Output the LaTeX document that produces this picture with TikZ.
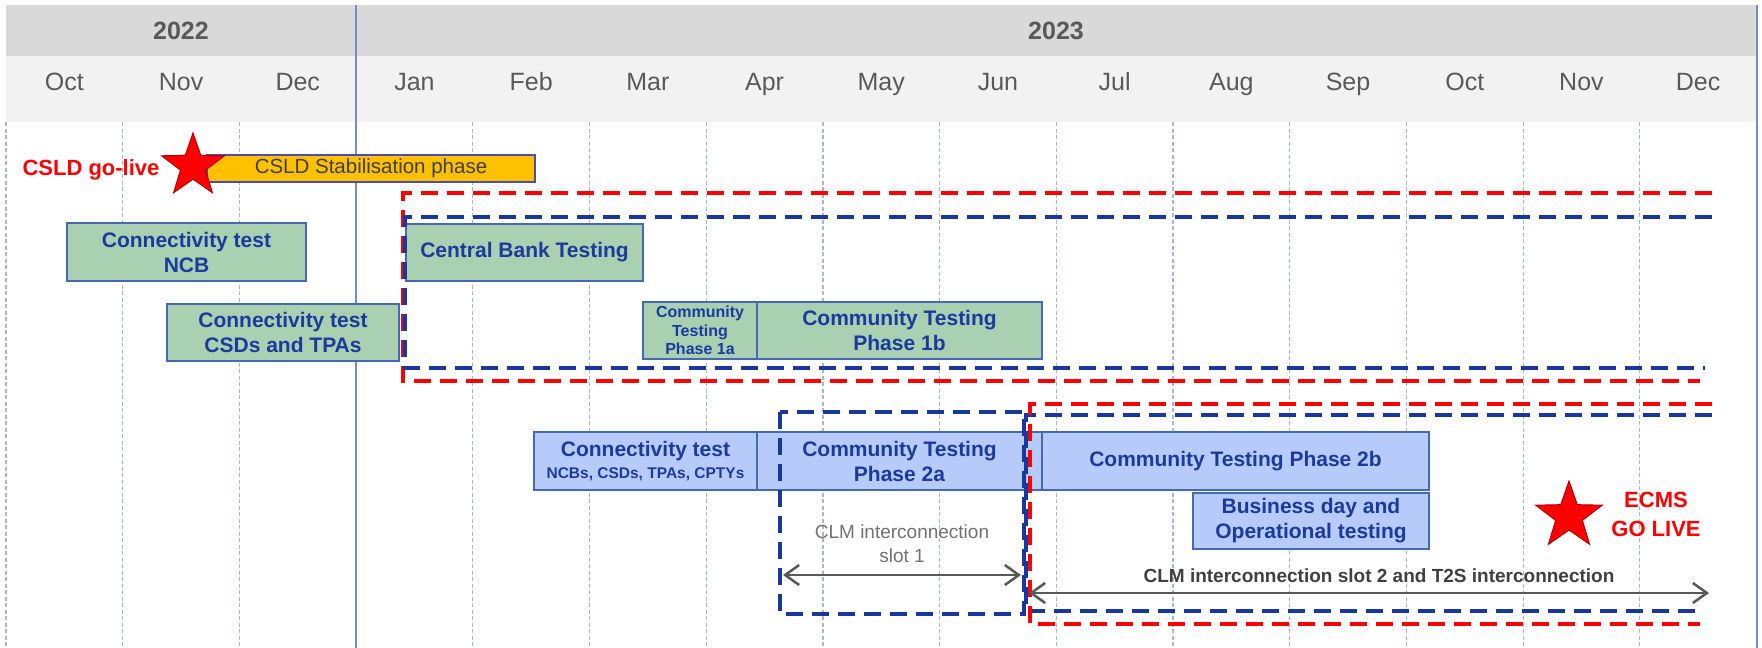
\documentclass[tikz,border=0pt]{standalone}
\usepackage{fontspec}
\setmainfont{Liberation Sans}
\usepackage{tikz}
\usetikzlibrary{arrows.meta, shapes.geometric, positioning, calc}

\definecolor{hdrdark}{RGB}{217,217,217}
\definecolor{hdrlight}{RGB}{242,242,242}
\definecolor{hdrtext}{RGB}{89,89,89}
\definecolor{gridline}{RGB}{170,182,210}
\definecolor{yearline}{RGB}{120,140,195}
\definecolor{boxgreen}{RGB}{170,208,178}
\definecolor{boxblue}{RGB}{183,203,250}
\definecolor{boxedge}{RGB}{70,105,180}
\definecolor{boxtext}{RGB}{28,58,158}
\definecolor{stabfill}{RGB}{255,192,0}
\definecolor{phasered}{RGB}{255,0,0}
\definecolor{phaseblue}{RGB}{25,55,160}
\definecolor{arrgray}{RGB}{89,89,89}

\begin{document}
\begin{tikzpicture}[x=1pt, y=-1pt,
    greenbox/.style={draw=boxedge, line width=1.5pt, fill=boxgreen, text=boxtext, align=center,
      font=\fontsize{21}{25}\selectfont\bfseries, inner sep=2pt},
    bluebox/.style={greenbox, fill=boxblue},
    redbrk/.style={draw=phasered, line width=4pt, dash pattern=on 17pt off 9pt},
    bluebrk/.style={redbrk, draw=phaseblue},
    gostar/.style={star, star points=5, star point ratio=2.5, fill=phasered, draw=red!70!black,
      line width=1pt, inner sep=0pt},
    golbl/.style={text=phasered, font=\fontsize{22}{29}\selectfont\bfseries, align=center, inner sep=0pt},
    spanarr/.style={draw=arrgray, line width=2.5pt, <->, >={Straight Barb[length=14pt,width=20pt]}}
  ]
  \fill[white] (0,0) rectangle (1762,648);
  \useasboundingbox (0,0) rectangle (1762,648);

  % header bands
  \fill[hdrdark] (6,5) rectangle (1757,56);
  \fill[hdrlight] (6,56) rectangle (1757,122);
  \node[font=\fontsize{25}{30}\selectfont\bfseries, text=hdrtext, anchor=base] (y2022) at (181,39) {2022};
  \node[font=\fontsize{25}{30}\selectfont\bfseries, text=hdrtext, anchor=base] (y2023) at (1056,39) {2023};
  \foreach \m [count=\i from 0] in {Oct,Nov,Dec,Jan,Feb,Mar,Apr,May,Jun,Jul,Aug,Sep,Oct,Nov,Dec}
    \node[font=\fontsize{25}{30}\selectfont, text=hdrtext, anchor=base] (m\i) at ({6+116.7*(\i+0.5)},90) {\m};

  % month grid
  \foreach \k in {0,...,14}
    \draw[gridline, line width=1.2pt, dash pattern=on 4pt off 2.5pt] ({6+116.7*\k},122) -- ({6+116.7*\k},648);
  \draw[yearline, line width=2pt] (356,5) -- (356,648);
  \draw[yearline, line width=1.5pt] (1757,5) -- (1757,648);

  % CSLD
  \node[draw=gray!60!blue, line width=1.5pt, fill=stabfill, minimum width=328pt, minimum height=27pt,
    inner sep=0pt, font=\fontsize{20.5}{24}\selectfont, text=black!75] (stab) at (371,168.5) {CSLD Stabilisation phase};
  \node[gostar, minimum size=66pt] (csldstar) at (193,166) {};
  \node[golbl, anchor=base] (csldlbl) at (91,175) {CSLD go-live};

  % phase 1
  \node[greenbox, minimum width=239pt, minimum height=58pt] (ctncb) at (186.5,252) {Connectivity test\\NCB};
  \node[greenbox, minimum width=232pt, minimum height=57pt] (ctcsd) at (283,332.5) {Connectivity test\\CSDs and TPAs};
  \node[greenbox, minimum width=237pt, minimum height=57pt] (cbt) at (524.5,252.5) {Central Bank Testing};
  \node[greenbox, minimum width=114pt, minimum height=57pt, font=\fontsize{16}{18.5}\selectfont\bfseries] (ct1a) at (700,330.5) {Community\\Testing\\Phase 1a};
  \node[greenbox, minimum width=285pt, minimum height=57pt] (ct1b) at (899.5,330.5) {Community Testing\\Phase 1b};

  % phase 2
  \node[bluebox, minimum width=223pt, minimum height=58pt] (ct2conn) at (645.5,461) {Connectivity test\\[-3pt]{\fontsize{15.5}{18}\selectfont NCBs, CSDs, TPAs, CPTYs}};
  \node[bluebox, minimum width=285pt, minimum height=58pt] (ct2a) at (899.5,461) {Community Testing\\Phase 2a};
  \node[bluebox, minimum width=387pt, minimum height=58pt] (ct2b) at (1235.5,461) {Community Testing Phase 2b};
  \node[bluebox, minimum width=236pt, minimum height=56pt] (bizday) at (1311,521) {Business day and\\Operational testing};

  % dashed windows
  \draw[redbrk] (1712,193) -- (403,193) -- (403,381) -- (1700,381);
  \draw[bluebrk] (1712,217) -- (405,217) -- (405,368) -- (1705,368);
  \draw[bluebrk] (780,412) rectangle (1024,614);
  \draw[bluebrk] (1712,415) -- (1026,415) -- (1026,611) -- (1702,611);
  \draw[redbrk] (1712,404) -- (1030,404) -- (1030,624) -- (1700,624);

  % interconnection slots
  \coordinate (s1l) at (783,575);
  \coordinate (s1r) at (1021,575);
  \draw[spanarr] (s1l) -- (s1r) node[midway, above=9pt, align=center, inner sep=2pt, text=arrgray!85,
    font=\fontsize{19}{24}\selectfont] (s1lbl) {CLM interconnection\\slot 1};
  \coordinate (s2l) at (1029,593);
  \coordinate (s2r) at (1709,593);
  \draw[spanarr] (s2l) -- (s2r) node[midway, above=7pt, xshift=10pt, inner sep=2pt, text=black!75,
    font=\fontsize{19}{24}\selectfont\bfseries] (s2lbl) {CLM interconnection slot 2 and T2S interconnection};

  % ECMS
  \node[gostar, minimum size=70pt] (ecmsstar) at (1569,516) {};
  \node[golbl] (ecmslbl) at (1656,514.5) {ECMS\\GO LIVE};
\end{tikzpicture}
\end{document}
